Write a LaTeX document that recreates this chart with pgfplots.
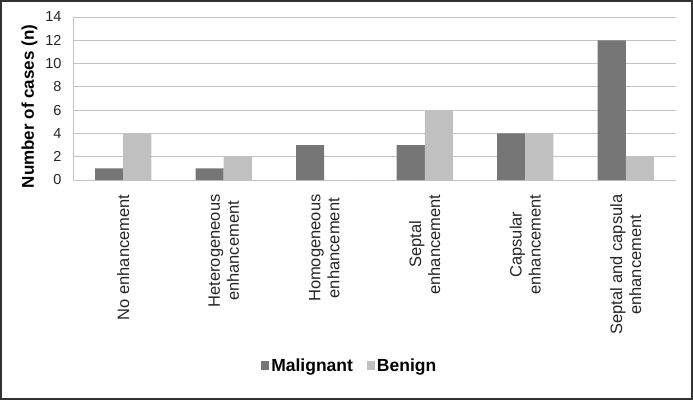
\documentclass[border=0pt]{standalone}
\usepackage{fontspec}
\setmainfont{Liberation Sans}
\usepackage{pgfplots}
\pgfplotsset{compat=1.18}

\definecolor{malig}{HTML}{767676}
\definecolor{benign}{HTML}{C0C0C0}
\definecolor{gridc}{HTML}{C4C4C4}

\begin{document}
\begin{tikzpicture}
\begin{axis}[
    scale only axis,
    width=603pt,
    height=163pt,
    ybar=0pt,
    bar width=0.28,
    xmin=-0.5, xmax=5.5,
    ymin=0, ymax=14,
    ytick={0,2,...,14},
    xtick=data,
    xticklabels={No enhancement,Heterogeneous\\enhancement,Homogeneous\\enhancement,Septal\\enhancement,Capsular\\enhancement,Septal and capsula\\enhancement},
    x tick label style={rotate=90, anchor=east, align=center,
        font=\fontsize{16.5pt}{19pt}\selectfont},
    xticklabel shift=11pt,
    y tick label style={font=\fontsize{14.5pt}{16pt}\selectfont},
    yticklabel shift=8pt,
    major tick length=0pt,
    axis x line=bottom,
    axis y line=left,
    axis line style={gridc, -},
    ymajorgrids=true,
    grid style={gridc, line width=0.9pt},
    tick label style={text=black!85},
    /pgf/number format/assume math mode=true,
    ylabel={\textbf{Number of cases (n)}},
    ylabel style={font=\fontsize{17pt}{18pt}\selectfont, yshift=1pt, xshift=-8pt},
    legend columns=2,
    legend style={draw=none, fill=none, at={(axis description cs:0.459,-1.141)}, anchor=center,
        font=\bfseries\fontsize{17.5pt}{19pt}\selectfont, /tikz/every even column/.append style={column sep=12pt}},
    legend image code/.code={\fill[#1] (0pt,-4pt) rectangle (8pt,5pt);},
]
\addplot[fill=malig, draw=none] coordinates {(0,1) (1,1) (2,3) (3,3) (4,4) (5,12)};
\addplot[fill=benign, draw=none] coordinates {(0,4) (1,2) (2,0) (3,6) (4,4) (5,2)};
\legend{Malignant,Benign}
\end{axis}
\draw[line width=2pt, black!80] ([shift={(-72pt,-219pt)}]current axis.south west) rectangle ([shift={(619pt,179pt)}]current axis.south west);
\end{tikzpicture}
\end{document}
